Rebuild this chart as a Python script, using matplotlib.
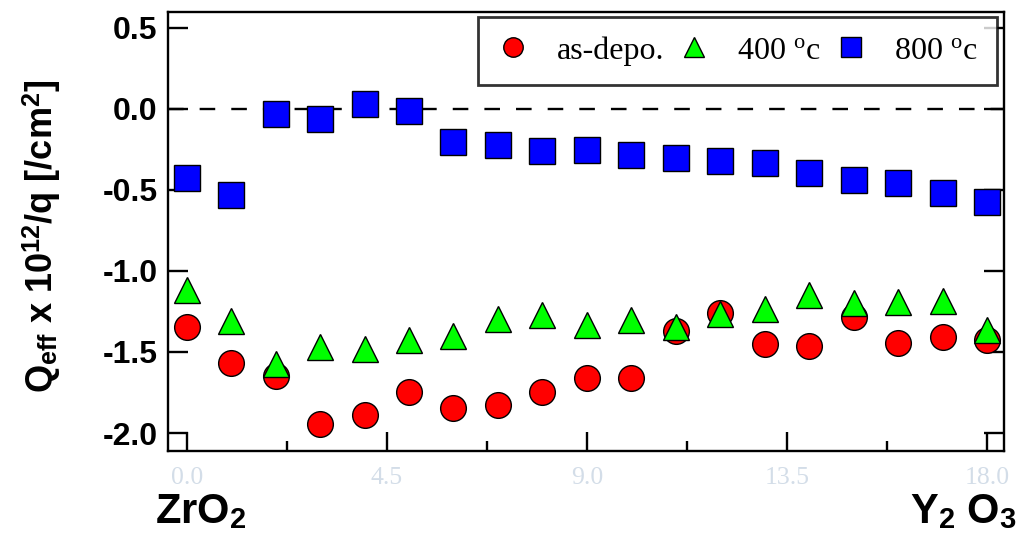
import matplotlib
matplotlib.use("Agg")
import matplotlib.pyplot as plt
from matplotlib.lines import Line2D

# ---- data ----
x = list(range(19))
as_depo = [-1.344, -1.570, -1.646, -1.944, -1.891, -1.749, -1.848, -1.829, -1.745, -1.660,
           -1.663, -1.370, -1.261, -1.451, -1.463, -1.286, -1.447, -1.409, -1.426]
t400 = [-1.117, -1.308, -1.573, -1.467, -1.485, -1.426, -1.404, -1.297, -1.275, -1.337,
        -1.302, -1.349, -1.267, -1.237, -1.151, -1.197, -1.190, -1.187, -1.363]
t800 = [-0.428, -0.535, -0.033, -0.065, 0.031, -0.017, -0.208, -0.222, -0.262, -0.254,
        -0.285, -0.305, -0.321, -0.335, -0.399, -0.439, -0.456, -0.519, -0.573]
xticks_major = [0.0, 4.5, 9.0, 13.5, 18.0]
xtick_labels = ["0.0", "4.5", "9.0", "13.5", "18.0"]
xticks_minor = [2.25, 6.75, 11.25, 15.75]
yticks = [-2.0, -1.5, -1.0, -0.5, 0.0, 0.5]
ytick_labels = ["-2.0", "-1.5", "-1.0", "-0.5", "0.0", "0.5"]
legend_labels = ["as-depo.", r"400 $^{\mathrm{o}}$c", r"800 $^{\mathrm{o}}$c"]

plt.rcParams['mathtext.fontset'] = 'custom'
plt.rcParams['mathtext.rm'] = 'Liberation Serif'
plt.rcParams['mathtext.bf'] = 'Liberation Sans:bold'
plt.rcParams['mathtext.it'] = 'Liberation Serif:italic'

W, H = 1020, 541
fig = plt.figure(figsize=(W / 100, H / 100), dpi=100)
L, R, B, T = 168.3, 1004.3, 450.7, 12.3
ax = fig.add_axes([L / W, 1 - B / H, (R - L) / W, (B - T) / H])

ax.set_xlim(-0.414, 18.39)
ax.set_ylim(-2.109, 0.594)

ax.axhline(0, color='black', lw=1.7, dashes=(6.6, 6.8), zorder=1)

ms = 18.5
ax.plot(x, as_depo, 'o', ms=ms, mfc='#ff0000', mec='black', mew=1.0, zorder=3)
ax.plot(x, t400, '^', ms=ms, mfc='#00ff00', mec='black', mew=1.0, zorder=4)
ax.plot(x, t800, 's', ms=ms, mfc='#0000ff', mec='black', mew=1.0, zorder=5)

for s in ax.spines.values():
    s.set_linewidth(1.7)

ax.set_xticks(xticks_major)
ax.set_xticklabels(xtick_labels, family='Liberation Serif', fontsize=18.5, color='#d3dde8')
ax.set_xticks(xticks_minor, minor=True)
ax.set_yticks(yticks)
ax.set_yticklabels(ytick_labels, family='Liberation Sans', fontweight='bold', fontsize=23)
ax.tick_params(axis='x', which='major', direction='in', length=13.7, width=1.7, pad=12, top=False)
ax.tick_params(axis='x', which='minor', direction='in', length=7.2, width=1.7, top=False)
ax.tick_params(axis='y', which='major', direction='in', length=14.4, width=1.7, pad=7.6,
               left=True, right=True)

fig.text(42 / W, 1 - 236.5 / H,
         r"Q$_{\mathbf{eff}}$ x 10$^{\mathbf{12}}$/q [/cm$^{\mathbf{2}}$]",
         rotation=90, ha='center', va='center', family='Liberation Sans',
         fontweight='bold', fontsize=26)

fig.text(155 / W, 1 - 523 / H, r"ZrO$_{\mathbf{2}}$", ha='left', va='baseline',
         family='Liberation Sans', fontweight='bold', fontsize=30)
fig.text(1017 / W, 1 - 523 / H, r"Y$_{\mathbf{2}}$ O$_{\mathbf{3}}$", ha='right', va='baseline',
         family='Liberation Sans', fontweight='bold', fontsize=30)

handles = [
    Line2D([], [], ls='none', marker='o', ms=14, mfc='#ff0000', mec='black', mew=1.0),
    Line2D([], [], ls='none', marker='^', ms=14, mfc='#00ff00', mec='black', mew=1.0),
    Line2D([], [], ls='none', marker='s', ms=14, mfc='#0000ff', mec='black', mew=1.0),
]
leg = ax.legend(handles, legend_labels, loc='upper right',
                bbox_to_anchor=(997 / W, 1 - 17 / H), bbox_transform=fig.transFigure,
                ncol=3, frameon=True, fancybox=False, borderaxespad=0,
                prop={'family': 'Liberation Serif', 'size': 23},
                handlelength=1.0, handletextpad=0.85, columnspacing=0.45,
                borderpad=0.6)
leg.get_frame().set_edgecolor('black')
leg.get_frame().set_linewidth(2.0)
leg.set_zorder(10)

fig.savefig("out.png", dpi=100)
